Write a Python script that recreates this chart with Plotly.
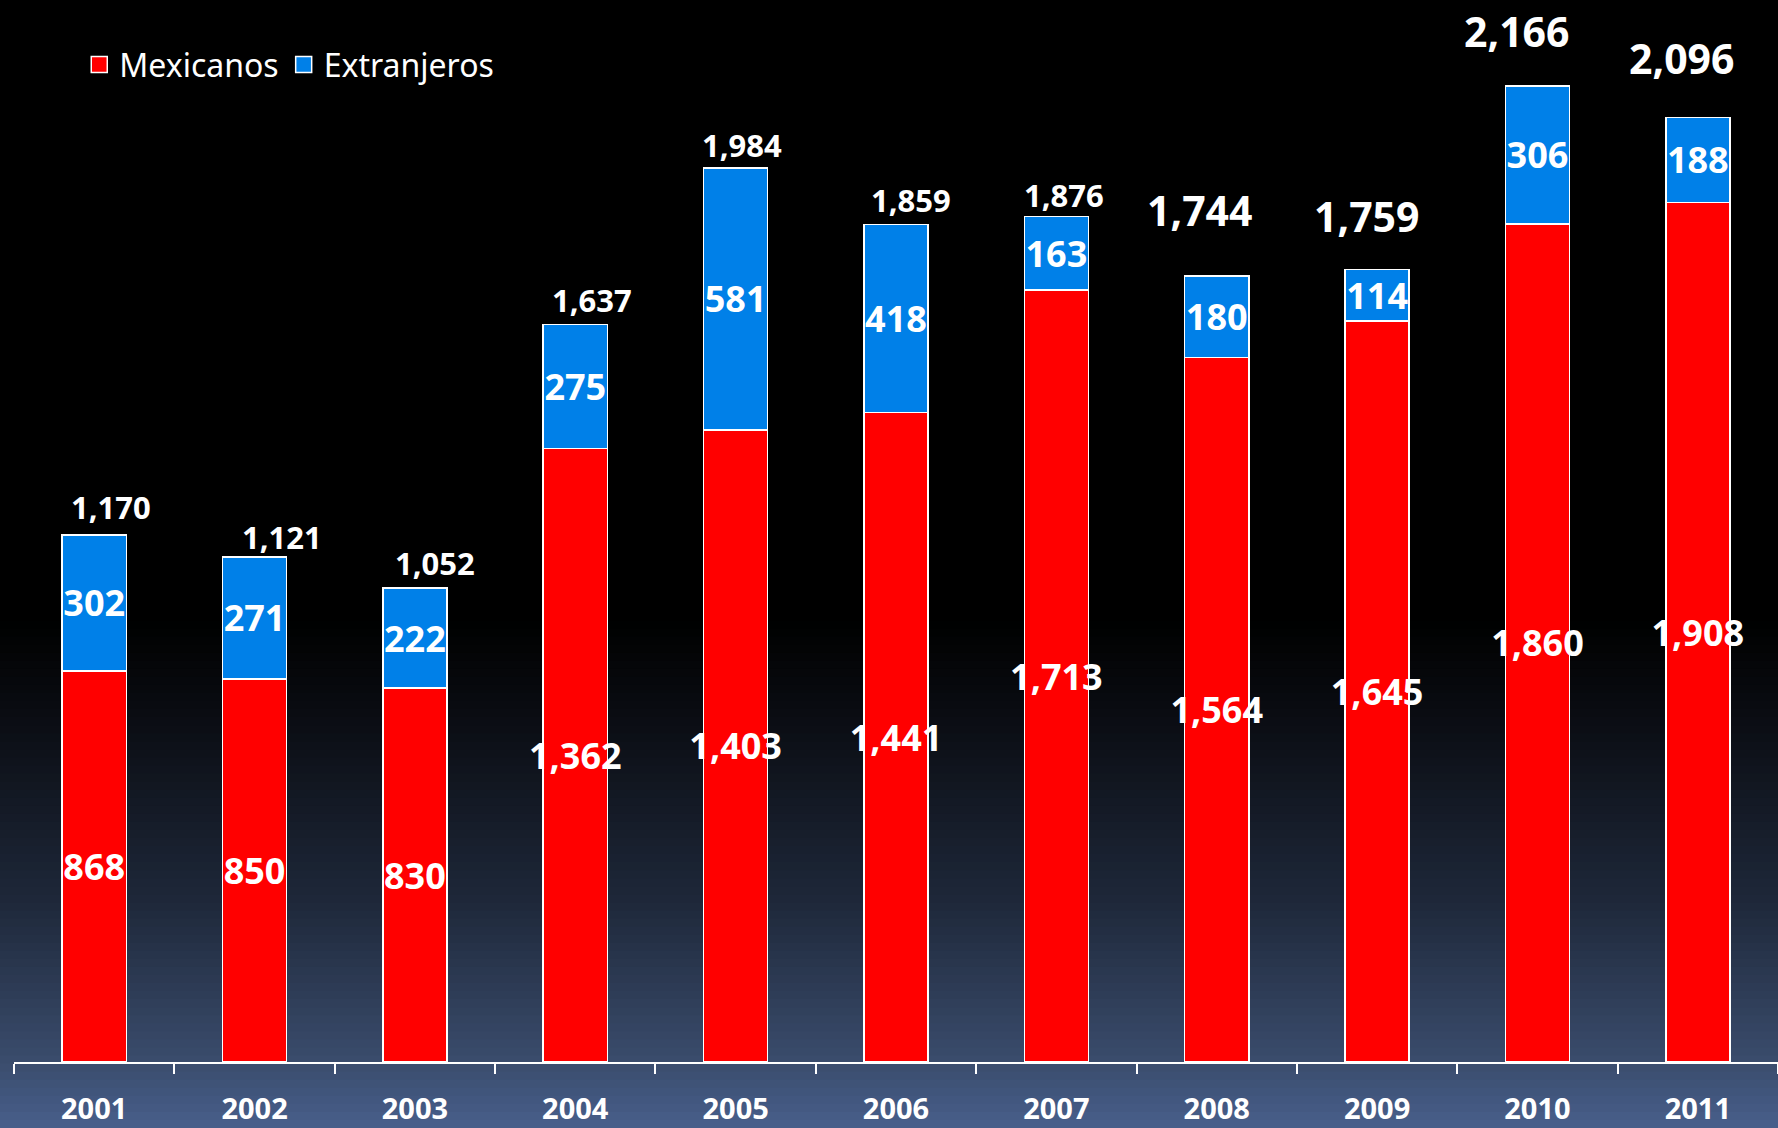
import plotly.graph_objects as go

years = ["2001", "2002", "2003", "2004", "2005", "2006", "2007", "2008", "2009", "2010", "2011"]
mexicanos = [868, 850, 830, 1362, 1403, 1441, 1713, 1564, 1645, 1860, 1908]
extranjeros = [302, 271, 222, 275, 581, 418, 163, 180, 114, 306, 188]
totales = [1170, 1121, 1052, 1637, 1984, 1859, 1876, 1744, 1759, 2166, 2096]

# label styling (offsets in px, font sizes)
total_sizes = [31, 31, 31, 31, 31, 31, 31, 41, 41, 41, 41]
total_xshift = [17, 27, 20, 17, 6, 15, 8, -17, -10, -20, -16]
total_yshift = [28, 20, 25, 24, 23, 24, 22, 66, 53, 55, 60]

W, H = 1778, 1128
ML, MR, MT, MB = 14, 0, 0, 66
FONT = "Noto Sans"
RED = "#ff0000"
BLUE = "#0080e8"

fig = go.Figure()
fig.add_trace(go.Bar(
    x=years, y=mexicanos, name="Mexicanos", showlegend=False,
    marker=dict(color=RED, line=dict(color="white", width=1.5)),
    text=[f"{v:,}" for v in mexicanos], textposition="inside",
    insidetextanchor="middle", textangle=0, constraintext="none",
    textfont=dict(color="white", size=36, family=FONT, weight="bold"),
))
fig.add_trace(go.Bar(
    x=years, y=extranjeros, name="Extranjeros", showlegend=False,
    marker=dict(color=BLUE, line=dict(color="white", width=1.5)),
    text=[f"{v:,}" for v in extranjeros], textposition="inside",
    insidetextanchor="middle", textangle=0, constraintext="none",
    textfont=dict(color="white", size=36, family=FONT, weight="bold"),
))
# legend entries with larger square symbols
for name, c in [("Mexicanos", RED), ("Extranjeros", BLUE)]:
    fig.add_trace(go.Scatter(
        x=[None], y=[None], mode="markers", name=name,
        marker=dict(symbol="square", size=20, color=c, line=dict(color="white", width=1.5)),
    ))

for i, t in enumerate(totales):
    fig.add_annotation(
        x=i, y=t, xref="x", yref="y", text=f"{t:,}", showarrow=False,
        xanchor="center", yanchor="middle", borderpad=0,
        xshift=total_xshift[i], yshift=total_yshift[i],
        font=dict(color="white", size=total_sizes[i], family=FONT, weight="bold"),
    )

# background gradient
plot_h = H - MT - MB
stops = [(0.0, (0, 0, 0)), (0.55, (0, 0, 0)), (0.65, (12, 15, 22)),
         (0.80, (30, 40, 58)), (0.94, (58, 76, 108)), (1.0, (72, 95, 140))]

def col(f):
    for (a, ca), (b, cb) in zip(stops[:-1], stops[1:]):
        if a <= f <= b:
            t = 0 if b == a else (f - a) / (b - a)
            return "rgb(%d,%d,%d)" % tuple(round(ca[k] + (cb[k] - ca[k]) * t) for k in range(3))
    return "rgb(%d,%d,%d)" % stops[-1][1]

N = 140
shapes = []
for i in range(N):
    py0 = H * i / N
    py1 = H * (i + 1) / N + 1
    f = (i + 0.5) / N
    y0 = 1 - (py0 - MT) / plot_h
    y1 = 1 - (py1 - MT) / plot_h
    shapes.append(dict(type="rect", xref="paper", yref="paper",
                       x0=-0.02, x1=1.02, y0=y1, y1=y0,
                       fillcolor=col(f), line=dict(width=0), layer="below"))

fig.update_layout(
    width=W, height=H,
    margin=dict(l=ML, r=MR, t=MT, b=MB),
    barmode="stack", bargap=0.6,
    paper_bgcolor="black", plot_bgcolor="rgba(0,0,0,0)",
    shapes=shapes,
    showlegend=True,
    legend=dict(orientation="h", x=0.037, y=0.939, xanchor="left", yanchor="middle",
                traceorder="normal", bgcolor="rgba(0,0,0,0)", itemwidth=30,
                font=dict(color="white", size=32, family=FONT)),
    xaxis=dict(type="category", range=[-0.5, 10.5], showline=True, linecolor="white",
               linewidth=2, ticks="outside", tickson="boundaries", ticklen=10,
               tickcolor="white", tickwidth=1.5, showgrid=False, ticklabelstandoff=20,
               tickfont=dict(color="white", size=29, family=FONT, weight="bold")),
    yaxis=dict(range=[0, 2357], visible=False, showgrid=False, zeroline=False),
)

fig.write_html("out.html", config={"displayModeBar": False},
               post_script="document.body.style.margin='0';document.body.style.background='black';")
